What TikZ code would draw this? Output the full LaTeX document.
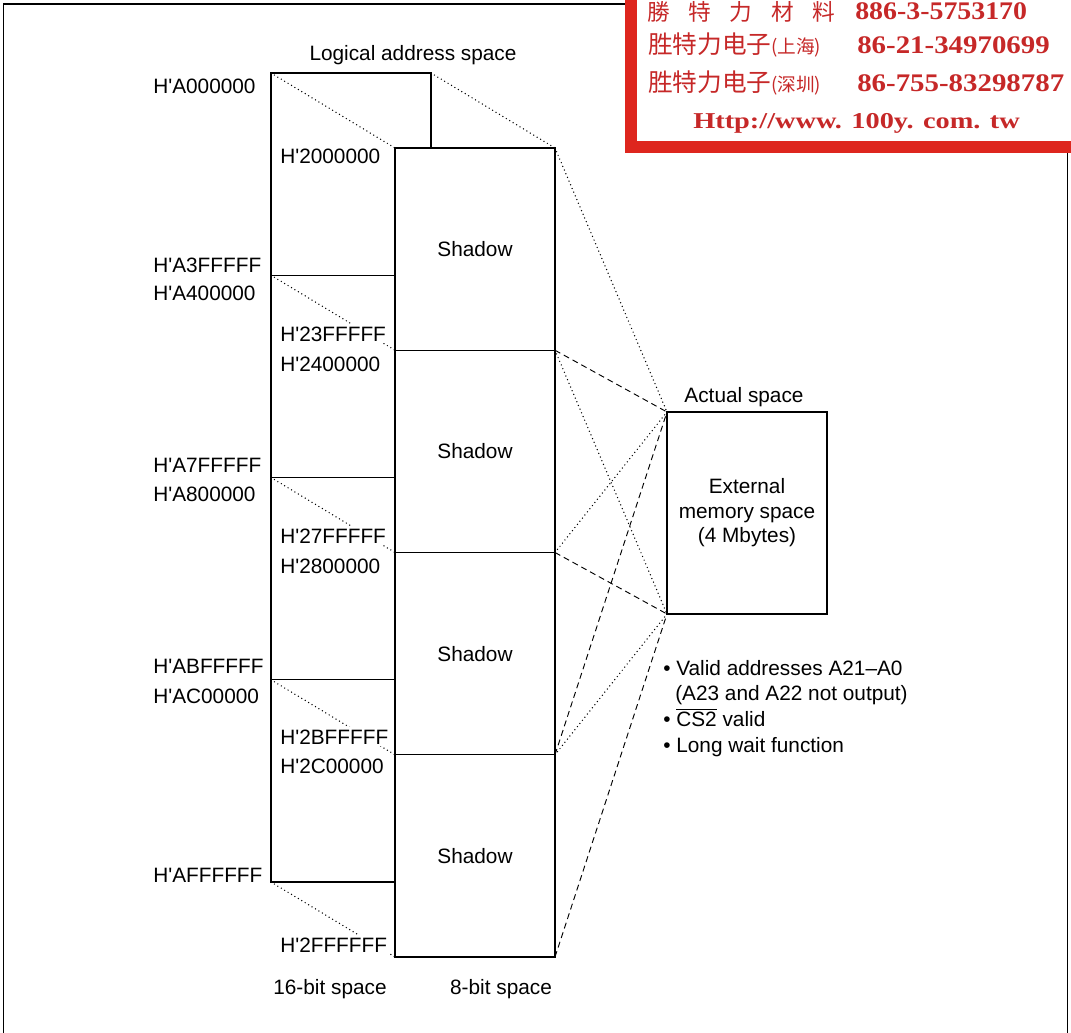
\documentclass[tikz,border=0pt]{standalone}
\usepackage{fontspec}
\usepackage{graphicx}
\setmainfont{Liberation Sans}
\newfontfamily\cjk{Noto Sans CJK SC}
\newfontfamily\stampserif{Liberation Serif}
\definecolor{stampred}{RGB}{222,38,30}
\definecolor{stamptext}{RGB}{198,40,40}
\newcommand\hq{H\textquotesingle}
\begin{document}
\begin{tikzpicture}[x=0.75pt,y=-0.75pt, font=\fontsize{15.6pt}{18.4pt}\selectfont,
 box/.style={draw, line width=0.8pt, minimum width=120pt, minimum height=151.69pt, inner sep=0pt, outer sep=0pt},
 shadowbox/.style={box, fill=white},
 lbl/.style={anchor=base west, inner sep=0pt},
 inlbl/.style={anchor=base west, inner sep=1.5pt, fill=white},
 ttl/.style={anchor=base, inner sep=0pt},
 dotline/.style={line width=1.1pt, line cap=round, dash pattern=on 0pt off 3pt},
 dashline/.style={line width=0.7pt, dash pattern=on 4.5pt off 3pt},
 stampcjk/.style={anchor=base west, inner sep=0pt, text=stamptext},
 stampnum/.style={anchor=base west, inner sep=0pt, text=stamptext, font=\stampserif\bfseries\fontsize{19pt}{19pt}\selectfont},
]
\useasboundingbox (0,0) rectangle (1071,1032);
\clip (0,0) rectangle (1071,1032);
% outer frame
\draw[line width=0.9pt] (3.5,4) rectangle (1067.5,1050);

% 16-bit space blocks
\node[box] (p1) at (351,174.125) {};
\node[box] (p2) at (351,376.375) {};
\node[box] (p3) at (351,578.625) {};
\node[box] (p4) at (351,780.875) {};

% 8-bit space blocks
\node[shadowbox] (q1) at (475,249.125) {Shadow};
\node[shadowbox] (q2) at (475,451.375) {Shadow};
\node[shadowbox] (q3) at (475,653.625) {Shadow};
\node[shadowbox] (q4) at (475,855.875) {Shadow};

% actual space
\node[box, minimum height=151.5pt, align=center] (act) at (747,513) {External\\memory space\\(4 Mbytes)};

% 16-bit to 8-bit mapping
\draw[dotline] (p1.north west) -- (q1.north west);
\draw[dotline] (p1.north east) -- (q1.north east);
\draw[dotline] (p2.north west) -- (q2.north west);
\draw[dotline] (p3.north west) -- (q3.north west);
\draw[dotline] (p4.north west) -- (q4.north west);
\draw[dotline] (p4.south west) -- (q4.south west);

% 8-bit to actual space
\draw[dotline] (q1.north east) -- (act.north west);
\draw[dashline] (q2.north east) -- (act.north west);
\draw[dotline] (q2.north east) -- (act.south west);
\draw[dotline] (q3.north east) -- (act.north west);
\draw[dashline] (q3.north east) -- (act.south west);
\draw[dashline] (q4.north east) -- (act.north west);
\draw[dotline] (q4.north east) -- (act.south west);
\draw[dashline] (q4.south east) -- (act.south west);

% address labels (logical)
\node[lbl] (la1) at (153,93) {\hq A000000};
\node[lbl] (la2) at (153,272) {\hq A3FFFFF};
\node[lbl] (la3) at (153,300) {\hq A400000};
\node[lbl] (la4) at (153,472) {\hq A7FFFFF};
\node[lbl] (la5) at (153,501) {\hq A800000};
\node[lbl] (la6) at (153,673) {\hq ABFFFFF};
\node[lbl] (la7) at (153,703) {\hq AC00000};
\node[lbl] (la8) at (153,882) {\hq AFFFFFF};

% address labels (shadow)
\node[inlbl] (lb1) at (278,163) {\hq 2000000};
\node[inlbl] (lb2) at (278,341) {\hq 23FFFFF};
\node[inlbl] (lb3) at (278,371) {\hq 2400000};
\node[inlbl] (lb4) at (278,543) {\hq 27FFFFF};
\node[inlbl] (lb5) at (278,573) {\hq 2800000};
\node[inlbl] (lb6) at (278,744) {\hq 2BFFFFF};
\node[inlbl] (lb7) at (278,773) {\hq 2C00000};
\node[inlbl] (lb8) at (278,952) {\hq 2FFFFFF};

% titles
\node[ttl] (tlog) at (413,60) {Logical address space};
\node[ttl] (tact) at (744,402) {Actual space};
\node[ttl] (t16) at (330,994) {16-bit space};
\node[ttl] (t8) at (501,994) {8-bit space};

% notes
\node[lbl] (n1) at (663,675) {• Valid addresses A21–A0};
\node[lbl] (n2) at (675,700) {(A23 and A22 not output)};
\node[lbl] (n3) at (663,726) {• $\overline{\mbox{CS2}}$ valid};
\node[lbl] (n4) at (663,752) {• Long wait function};

% stamp
\draw[stampred, line width=9pt, fill=white] (631,-30) rectangle (1100,147);
\node[stampcjk, font=\cjk\fontsize{17pt}{17pt}\selectfont] (s1a) at (647,20) {勝\hspace{14pt}特\hspace{14pt}力\hspace{14pt}材\hspace{14pt}料};
\node[stampnum] (s1b) at (855,19) {\scalebox{1.1}[1]{886-3-5753170}};
\node[stampcjk, font=\cjk\fontsize{18.5pt}{18.5pt}\selectfont] (s2a) at (648,53) {胜特力电子};
\node[stampcjk, font=\cjk\fontsize{14pt}{14pt}\selectfont] (s2b) at (771,53) {(上海)};
\node[stampnum] (s2c) at (857,53) {\scalebox{1.14}[1]{86-21-34970699}};
\node[stampcjk, font=\cjk\fontsize{18.5pt}{18.5pt}\selectfont] (s3a) at (648,91) {胜特力电子};
\node[stampcjk, font=\cjk\fontsize{14pt}{14pt}\selectfont] (s3b) at (771,91) {(深圳)};
\node[stampnum] (s3c) at (857,91) {\scalebox{1.14}[1]{86-755-83298787}};
\node[stampnum, font=\stampserif\bfseries\fontsize{17pt}{17pt}\selectfont] (s4) at (693,128) {\scalebox{1.25}[1]{Http://www. 100y. com. tw}};
\end{tikzpicture}
\end{document}
